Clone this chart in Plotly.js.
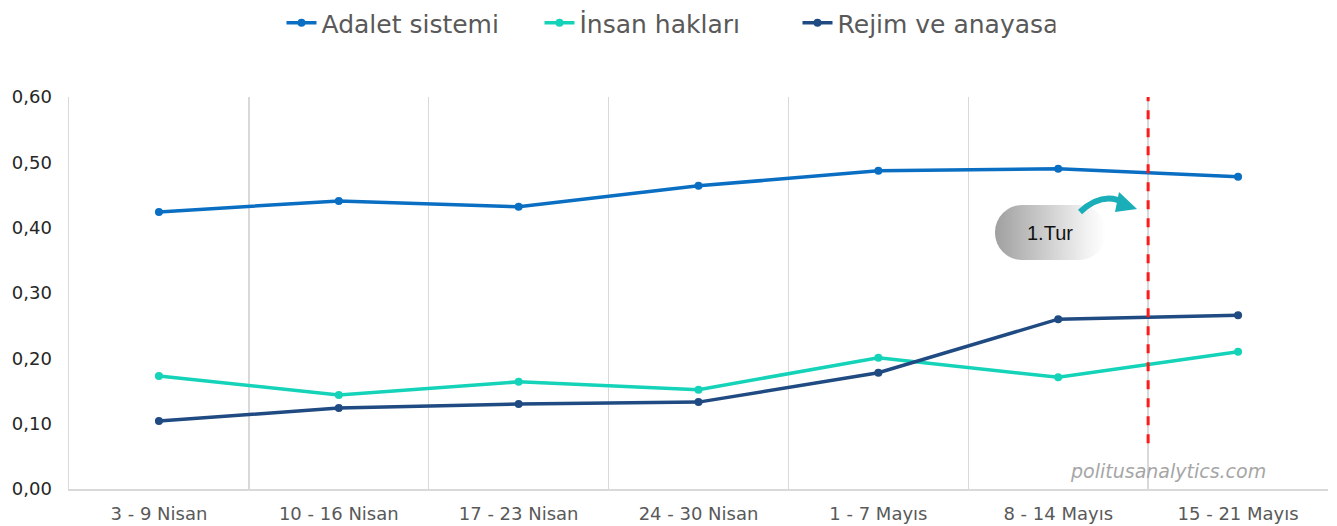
<!DOCTYPE html>
<html><head><meta charset="utf-8">
<script src="https://cdn.plot.ly/plotly-3.0.1.min.js"></script>
<style>html,body{margin:0;padding:0;background:#fff}#chart{width:1337px;height:526px}</style>
</head><body><div id="chart"></div>
<script>
const categories = ["3 - 9 Nisan","10 - 16 Nisan","17 - 23 Nisan","24 - 30 Nisan","1 - 7 Mayıs","8 - 14 Mayıs","15 - 21 Mayıs"];
const adalet = [0.424,0.441,0.432,0.464,0.487,0.490,0.478];
const insan = [0.173,0.144,0.164,0.152,0.201,0.171,0.210];
const rejim = [0.104,0.124,0.130,0.133,0.178,0.260,0.266];
const yTicks = [0,0.1,0.2,0.3,0.4,0.5,0.6];
const yTickText = ["0,00","0,10","0,20","0,30","0,40","0,50","0,60"];

function tr(name, y, color){
  return {type:'scatter', mode:'lines+markers', name:name, x:categories, y:y,
    line:{color:color, width:3.5}, marker:{color:color, size:8}};
}
const data = [
  tr("Adalet sistemi", adalet, "#0A6FC2"),
  tr("İnsan hakları", insan, "#14D3B9"),
  tr("Rejim ve anayasa", rejim, "#1F4A82")
];

const pillSvg = '<svg xmlns="http://www.w3.org/2000/svg" width="150" height="70" viewBox="0 0 150 70">'
 + '<defs><linearGradient id="g" x1="0" y1="0" x2="1" y2="0"><stop offset="0" stop-color="#a0a0a0"/><stop offset="0.85" stop-color="#f4f4f4"/><stop offset="1" stop-color="#ffffff"/></linearGradient></defs>'
 + '<rect x="1" y="15" width="111" height="55" rx="27" ry="27" fill="url(#g)"/>'
 + '<path d="M86 22 Q110 0 132 14" fill="none" stroke="#1AAFB8" stroke-width="6"/>'
 + '<path d="M125 2 L143 19 L121 22 Z" fill="#1AAFB8"/>'
 + '</svg>';
const pillUri = 'data:image/svg+xml;base64,' + btoa(pillSvg);

const layout = {
  width:1337, height:526,
  margin:{l:69, r:9, t:97, b:37},
  paper_bgcolor:'#fff', plot_bgcolor:'#fff',
  font:{family:'DejaVu Sans, Verdana, sans-serif', color:'#404040', size:18},
  showlegend:true,
  legend:{orientation:'h', x:0.5, xanchor:'center', xref:'container', y:1.0, yref:'container', yanchor:'top',
    font:{family:'DejaVu Sans, Verdana, sans-serif', size:25, color:'#595959'}, itemwidth:30, tracegroupgap:0,
    entrywidth:213, entrywidthmode:'pixels'},
  xaxis:{type:'category', range:[-0.5,6.5], tickson:'boundaries', showgrid:true, gridcolor:'#D9D9D9', gridwidth:1.5,
    ticks:'', showline:true, linecolor:'#D9D9D9', linewidth:1.5, ticklabelstandoff:8,
    tickfont:{size:18, color:'#595959'}, zeroline:false, fixedrange:true},
  yaxis:{range:[0,0.6], tickvals:yTicks, ticktext:yTickText, showgrid:false, zeroline:false, showline:true,
    linecolor:'#D9D9D9', linewidth:1.5, ticks:'', ticklabelstandoff:12, tickfont:{size:18, color:'#262626'}, fixedrange:true},
  shapes:[
    {type:'line', xref:'x', yref:'y', x0:5.5, x1:5.5, y0:0.07, y1:0.6, line:{color:'#FF1A1A', width:3, dash:'dash'}}
  ],
  images:[
    {source:pillUri, xref:'paper', yref:'paper', x:(994-69)/1259, y:(489-190)/392, sizex:150/1259, sizey:70/392,
     xanchor:'left', yanchor:'top', sizing:'stretch', layer:'above'}
  ],
  annotations:[
    {text:'1.Tur', xref:'paper', yref:'paper', x:(1050-69)/1259, xanchor:'center', y:(489-233)/392, yanchor:'middle', showarrow:false,
     font:{family:'Liberation Sans, Arial, sans-serif', size:20, color:'#111'}},
    {text:'<i>politusanalytics.com</i>', xref:'paper', yref:'paper', x:(1268-69)/1259, xanchor:'right', y:(489-471)/392, yanchor:'middle',
     showarrow:false, font:{family:'DejaVu Sans, Verdana, sans-serif', size:19, color:'#A6A6A6'}}
  ]
};
Plotly.newPlot('chart', data, layout, {displayModeBar:false, staticPlot:true});
</script></body></html>
